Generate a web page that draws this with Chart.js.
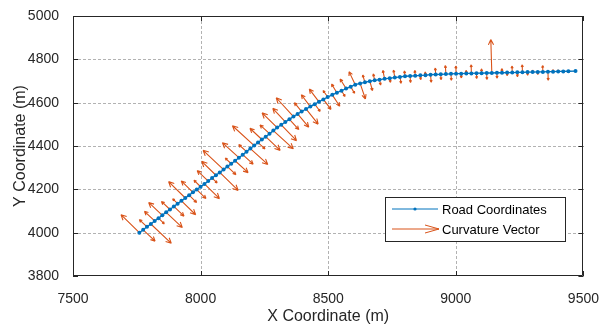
<!DOCTYPE html>
<html>
<head>
<meta charset="utf-8">
<script src="https://cdn.jsdelivr.net/npm/chart.js@4.4.1/dist/chart.umd.min.js"></script>
<style>
  html, body { margin: 0; padding: 0; background: #fff; }
</style>
</head>
<body>
<canvas id="roadChart" width="606" height="327"></canvas>
<script>
// road centre line (m)
const roadX = [7760,7775,7790,7805,7820,7835,7850,7865,7880,7895,7910,7925,7940,7955,7970,7985,8000,8015,8030,8045,
  8060,8075,8090,8105,8120,8135,8150,8165,8180,8195,8210,8225,8240,8255,8270,8285,8300,
  8316,8332,8348,8364,8380,8396,8413,8430,8447,8464,8481,8498,8516,8534,8552,8570,8588,8606,
  8625,8644,8663,8682,8701,8721,8741,8761,8781,8801,
  8821,8841,8861,8881,8901,8921,8941,8961,8981,9001,9021,9041,9061,9081,9101,9121,9141,9161,9181,9201,
  9221,9241,9261,9281,9301,9321,9341,9361,9381,9401,9421,9441,9469];
const roadY = [4000,4013,4027,4040,4054,4067,4080,4094,4107,4121,4134,4147,4160,4173,4186,4199,4212,4225,4238,4252,
  4265,4278,4291,4305,4318,4332,4346,4360,4374,4388,4402,4416,4430,4443,4457,4471,4485,
  4498,4511,4523,4536,4548,4559,4571,4582,4593,4604,4615,4626,4636,4646,4655,4665,4674,4683,
  4689,4694,4699,4703,4706,4710,4713,4716,4719,4722,
  4723,4724,4726,4727,4729,4730,4731,4732,4733,4734,4734,4735,4735,4736,4736,4737,4737,4738,4738,4739,
  4739,4740,4740,4741,4741,4742,4742,4743,4743,4744,4744,4745,4746];
// signed curvature vector length at each point (m, along the left normal)
const curvature = [110,-70,45,-120,60,-35,80,-95,50,-60,30,-85,100,-45,70,-55,40,-90,65,-30,
  85,-110,120,-50,35,-75,95,-60,45,-100,125,-40,70,-85,55,-115,90,
  -95,80,-60,110,-75,50,-85,65,-40,70,-55,35,-60,45,-30,50,-35,65,
  -75,35,-45,30,-25,40,-20,35,-30,25,
  -30,25,-20,15,-35,30,-25,40,-30,35,-20,15,40,-25,20,-30,155,-25,20,-15,
  30,-20,35,-15,10,-12,30,-40,10,8,-6,5,0];
const xTicks = [7500, 8000, 8500, 9000, 9500];
const yTicks = [3800, 4000, 4200, 4400, 4600, 4800, 5000];
const seriesNames = ['Road Coordinates', 'Curvature Vector'];

const BLUE = '#0072BD';
const ORANGE = '#D95319';
const AXIS = '#262626';
const FONT = '"Liberation Sans", Arial, sans-serif';

function arrowHead(ctx, x0, y0, x1, y1, size) {
  const a = Math.atan2(y1 - y0, x1 - x0);
  ctx.moveTo(x1, y1);
  ctx.lineTo(x1 - size * Math.cos(a - 0.45), y1 - size * Math.sin(a - 0.45));
  ctx.moveTo(x1, y1);
  ctx.lineTo(x1 - size * Math.cos(a + 0.45), y1 - size * Math.sin(a + 0.45));
}

// dashed grid, then quiver arrows along the road normal (under the road line)
const quiverPlugin = {
  id: 'quiver',
  beforeDatasetsDraw(chart) {
    const { ctx, chartArea: ca, scales: { x, y } } = chart;
    ctx.save();
    ctx.strokeStyle = 'rgba(0,0,0,0.3)';
    ctx.lineWidth = 1;
    ctx.setLineDash([3, 2]);
    ctx.beginPath();
    xTicks.slice(1, -1).forEach(v => {
      const px = Math.round(x.getPixelForValue(v)) + 0.5;
      ctx.moveTo(px, ca.top); ctx.lineTo(px, ca.bottom);
    });
    yTicks.slice(1, -1).forEach(v => {
      const py = Math.round(y.getPixelForValue(v)) + 0.5;
      ctx.moveTo(ca.left, py); ctx.lineTo(ca.right, py);
    });
    ctx.stroke();
    ctx.setLineDash([]);

    ctx.beginPath();
    ctx.rect(ca.left, ca.top, ca.width, ca.height);
    ctx.clip();
    ctx.strokeStyle = ORANGE;
    ctx.lineWidth = 1.1;
    const n = roadX.length;
    for (let i = 0; i < n; i++) {
      const k = curvature[i];
      if (!k) continue;
      const a = Math.max(0, i - 1), b = Math.min(n - 1, i + 1);
      let tx = roadX[b] - roadX[a], ty = roadY[b] - roadY[a];
      const len = Math.hypot(tx, ty);
      tx /= len; ty /= len;
      const ex = roadX[i] - ty * k, ey = roadY[i] + tx * k;
      const px0 = x.getPixelForValue(roadX[i]), py0 = y.getPixelForValue(roadY[i]);
      const px1 = x.getPixelForValue(ex), py1 = y.getPixelForValue(ey);
      const plen = Math.hypot(px1 - px0, py1 - py0);
      ctx.beginPath();
      ctx.moveTo(px0, py0);
      ctx.lineTo(px1, py1);
      arrowHead(ctx, px0, py0, px1, py1, Math.max(2.5, Math.min(6, plen * 0.3)));
      ctx.stroke();
    }
    ctx.restore();
  }
};

// box, inward ticks and legend
const framePlugin = {
  id: 'frame',
  afterDraw(chart) {
    const { ctx, chartArea: ca, scales: { x, y } } = chart;
    ctx.save();
    ctx.strokeStyle = AXIS;
    ctx.lineWidth = 1;
    ctx.beginPath();
    ctx.rect(Math.round(ca.left) + 0.5, Math.round(ca.top) + 0.5,
      Math.round(ca.width) - 1, Math.round(ca.height) - 1);
    xTicks.forEach(v => {
      const px = Math.round(x.getPixelForValue(v)) + 0.5;
      ctx.moveTo(px, ca.bottom); ctx.lineTo(px, ca.bottom - 5);
      ctx.moveTo(px, ca.top); ctx.lineTo(px, ca.top + 5);
    });
    yTicks.forEach(v => {
      const py = Math.round(y.getPixelForValue(v)) + 0.5;
      ctx.moveTo(ca.left, py); ctx.lineTo(ca.left + 5, py);
      ctx.moveTo(ca.right, py); ctx.lineTo(ca.right - 5, py);
    });
    ctx.stroke();

    // legend
    const lx = 385, ly = 197, lw = 180, lh = 44;
    ctx.fillStyle = '#fff';
    ctx.fillRect(lx, ly, lw, lh);
    ctx.strokeStyle = AXIS;
    ctx.strokeRect(lx + 0.5, ly + 0.5, lw, lh);
    ctx.font = '13px ' + FONT;
    ctx.textBaseline = 'middle';
    const r1 = ly + 12, r2 = ly + 32;
    ctx.strokeStyle = BLUE;
    ctx.beginPath(); ctx.moveTo(lx + 7, r1); ctx.lineTo(lx + 53, r1); ctx.stroke();
    ctx.fillStyle = BLUE;
    ctx.beginPath(); ctx.arc(lx + 30, r1, 1.6, 0, Math.PI * 2); ctx.fill();
    ctx.strokeStyle = ORANGE;
    ctx.beginPath(); ctx.moveTo(lx + 7, r2); ctx.lineTo(lx + 54, r2);
    ctx.moveTo(lx + 54, r2); ctx.lineTo(lx + 40, r2 - 4);
    ctx.moveTo(lx + 54, r2); ctx.lineTo(lx + 40, r2 + 4);
    ctx.stroke();
    ctx.fillStyle = '#000';
    ctx.fillText(seriesNames[0], lx + 57, r1 + 1);
    ctx.fillText(seriesNames[1], lx + 57, r2 + 1);
    ctx.restore();
  }
};

const plainTick = v => String(v);

new Chart(document.getElementById('roadChart'), {
  type: 'scatter',
  data: {
    datasets: [{
      label: seriesNames[0],
      data: roadX.map((v, i) => ({ x: v, y: roadY[i] })),
      showLine: true,
      borderColor: BLUE,
      backgroundColor: BLUE,
      borderWidth: 1.3,
      pointRadius: 2,
      pointBorderWidth: 0,
      tension: 0
    }]
  },
  options: {
    responsive: false,
    animation: false,
    events: [],
    layout: { padding: { top: 16, right: 18, left: 0, bottom: 0 } },
    plugins: { legend: { display: false }, tooltip: { enabled: false } },
    scales: {
      x: {
        type: 'linear', min: 7500, max: 9500,
        afterBuildTicks(s) { s.ticks = xTicks.map(v => ({ value: v })); },
        afterFit(s) { s.height = 51; },
        border: { display: false },
        grid: { display: false },
        ticks: { font: { family: FONT, size: 14 }, color: AXIS, padding: 7, maxRotation: 0, callback: plainTick },
        title: { display: true, text: 'X Coordinate (m)', font: { family: FONT, size: 16 }, color: AXIS, padding: { top: 0, bottom: 1 } }
      },
      y: {
        type: 'linear', min: 3800, max: 5000,
        afterBuildTicks(s) { s.ticks = yTicks.map(v => ({ value: v })); },
        afterFit(s) { s.width = 73; },
        border: { display: false },
        grid: { display: false },
        ticks: { font: { family: FONT, size: 14 }, color: AXIS, padding: 6, callback: plainTick },
        title: { display: true, text: 'Y Coordinate (m)', font: { family: FONT, size: 16 }, color: AXIS, padding: { top: 11, bottom: 0 } }
      }
    }
  },
  plugins: [quiverPlugin, framePlugin]
});
</script>
</body>
</html>
